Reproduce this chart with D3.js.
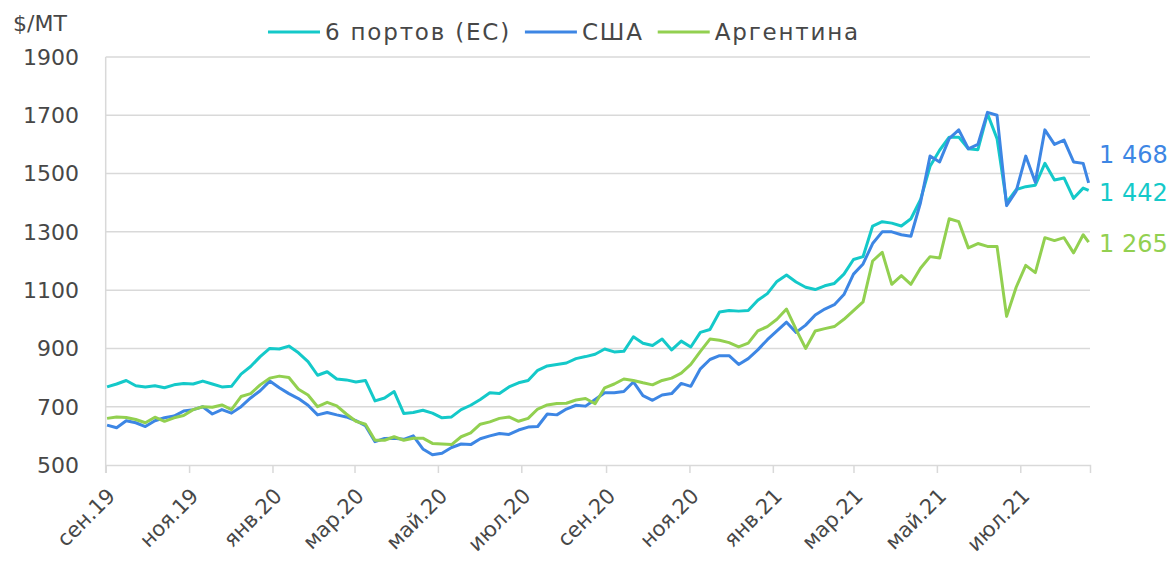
<!DOCTYPE html>
<html>
<head>
<meta charset="utf-8">
<script src="https://cdn.jsdelivr.net/npm/d3@7"></script>
<style>
  body { margin: 0; background: #fff; }
  svg { display: block; }
  text { font-family: "DejaVu Sans", sans-serif; fill: #474747; }
</style>
</head>
<body>
<div id="chart"></div>
<script>
// weekly observations, first Monday of Sep 2019, last point 20 Aug 2021
const firstDate = "2019-09-02";
const lastDate = "2021-08-20";
const axisStart = "2019-09-01";
const axisEnd = "2021-08-21";

const seriesNames = ["6 портов (ЕС)", "США", "Аргентина"];
const seriesColors = ["#14c9c9", "#3d86e4", "#92d050"];

const eu6 = [
  768, 778, 790, 772, 768, 772, 765, 775, 780, 778, 788, 778, 768, 770, 812, 838, 872, 900, 898, 908,
  885, 855, 808, 820, 795, 792, 785, 790, 720, 730, 752, 677, 680, 688, 678, 662, 665, 690, 705, 725,
  748, 745, 768, 782, 790, 825, 840, 845, 850, 865, 872, 880, 898, 888, 890, 940, 918, 910, 932, 895,
  925, 905, 955, 965, 1025, 1030, 1028, 1030, 1065, 1088, 1130, 1152, 1128, 1110, 1102, 1115, 1123, 1155, 1205, 1215,
  1320, 1335, 1330, 1320, 1345, 1410, 1525, 1580, 1625, 1625, 1585, 1582, 1705, 1620, 1400, 1445, 1455, 1460, 1535, 1478,
  1485, 1415, 1450, 1442
];
const usa = [
  637, 628, 652, 645, 632, 652, 662, 668, 685, 690, 700, 675, 690, 678, 700, 730, 755, 788, 765, 745,
  728, 705, 672, 680, 672, 665, 652, 635, 580, 591, 592, 588, 600, 555, 535, 540, 560, 572, 570, 590,
  600, 608, 605, 620, 630, 632, 675, 672, 692, 705, 702, 725, 748, 748, 752, 785, 738, 722, 740, 745,
  780, 770, 830, 862, 875, 875, 845, 865, 895, 930, 960, 990, 955, 980, 1015, 1035, 1050, 1085, 1155, 1190,
  1260, 1300, 1300, 1290, 1285, 1400, 1560, 1540, 1620, 1650, 1585, 1600, 1710, 1700, 1390, 1440, 1560, 1470, 1650, 1600,
  1615, 1540, 1535, 1468
];
const argentina = [
  660, 665, 663, 656, 645, 664, 650, 662, 670, 690, 700, 698, 706, 690, 735, 745, 775, 798, 805, 800,
  760, 740, 700, 715, 703, 675, 650, 640, 585, 585, 597, 585, 592, 592, 574, 572, 570, 597, 610, 640,
  648, 660, 665, 650, 660, 692, 706, 711, 712, 723, 728, 710, 765, 778, 795, 790, 782, 775, 790, 798,
  815, 845, 890, 932, 928, 920, 905, 918, 960, 975, 1000, 1035, 965, 900, 960, 968, 975, 1000, 1030, 1060,
  1200, 1230, 1120, 1150, 1120, 1175, 1215, 1210, 1345, 1335, 1245, 1260, 1250, 1250, 1010, 1110, 1185, 1160, 1280, 1270,
  1280, 1228, 1290, 1265
];

const yTicks = [500, 700, 900, 1100, 1300, 1500, 1700, 1900];
const xTickLabels = ["сен.19", "ноя.19", "янв.20", "мар.20", "май.20", "июл.20",
  "сен.20", "ноя.20", "янв.21", "мар.21", "май.21", "июл.21"];
const yTitle = "$/МТ";

const width = 1171, height = 568;
const margin = { top: 57, right: 81, bottom: 103, left: 105.7 };
const plotW = width - margin.left - margin.right;
const plotH = height - margin.top - margin.bottom;
const gridColor = "#d9d9d9";

const parse = d3.utcParse("%Y-%m-%d");
const dates = d3.range(eu6.length - 1).map(i => d3.utcDay.offset(parse(firstDate), 7 * i));
dates.push(parse(lastDate));

const series = [eu6, usa, argentina].map((vals, i) => ({
  name: seriesNames[i],
  color: seriesColors[i],
  values: vals.map((v, j) => ({ date: dates[j], value: v }))
}));

const svg = d3.select("#chart").append("svg")
  .attr("width", width).attr("height", height);

const x = d3.scaleUtc()
  .domain([parse(axisStart), parse(axisEnd)])
  .range([margin.left, margin.left + plotW]);
const y = d3.scaleLinear()
  .domain([500, 1900])
  .range([margin.top + plotH, margin.top]);

// gridlines
svg.append("g").selectAll("line")
  .data(yTicks.slice(1))
  .join("line")
  .attr("x1", margin.left).attr("x2", margin.left + plotW)
  .attr("y1", d => y(d)).attr("y2", d => y(d))
  .attr("stroke", gridColor).attr("stroke-width", 1.5);

// y labels
svg.append("g").selectAll("text")
  .data(yTicks)
  .join("text")
  .attr("x", 79).attr("y", d => y(d))
  .attr("dy", "0.36em")
  .attr("text-anchor", "end")
  .style("font-size", "22px")
  .text(d => d);

svg.append("text")
  .attr("x", 13).attr("y", 31)
  .style("font-size", "22px")
  .text(yTitle);

// x axis
const tickDates = d3.utcMonth.every(2).range(parse(axisStart), parse(axisEnd));
const xAxis = svg.append("g")
  .attr("transform", `translate(0,${margin.top + plotH})`)
  .call(d3.axisBottom(x).tickValues(tickDates).tickSize(8).tickFormat((d, i) => xTickLabels[i]));
xAxis.select(".domain").attr("stroke", gridColor).attr("stroke-width", 1.5);
xAxis.selectAll(".tick line").attr("stroke", gridColor).attr("stroke-width", 1.5);
xAxis.selectAll(".tick text")
  .attr("fill", "#474747")
  .style("font-size", "21px")
  .attr("text-anchor", "end")
  .attr("y", 0).attr("dy", "0.35em")
  .attr("transform", "translate(5,27) rotate(-45)");

// y axis line
svg.append("line")
  .attr("x1", margin.left).attr("x2", margin.left)
  .attr("y1", margin.top).attr("y2", margin.top + plotH + 8)
  .attr("stroke", gridColor).attr("stroke-width", 1.5);

// lines
const line = d3.line().x(d => x(d.date)).y(d => y(d.value));
svg.append("g").selectAll("path")
  .data(series)
  .join("path")
  .attr("d", d => line(d.values))
  .attr("fill", "none")
  .attr("stroke", d => d.color)
  .attr("stroke-width", 3)
  .attr("stroke-linejoin", "round");

// end labels
const fmt = d3.formatLocale({ decimal: ",", thousands: " ", grouping: [3], currency: ["", ""] }).format(",");
const labelShift = [2, -29, 1];
svg.append("g").selectAll("text")
  .data(series)
  .join("text")
  .attr("x", 1099)
  .attr("y", (d, i) => y(d.values[d.values.length - 1].value) + labelShift[i])
  .attr("dy", "0.36em")
  .style("font-size", "24px")
  .style("fill", d => d.color)
  .text(d => fmt(d.values[d.values.length - 1].value));

// legend
const legend = svg.append("g");
let lx = 0;
series.forEach((s, i) => {
  const g = legend.append("g").attr("transform", `translate(${lx},0)`);
  g.append("line").attr("x1", 0).attr("x2", 52).attr("y1", 0).attr("y2", 0)
    .attr("stroke", s.color).attr("stroke-width", 3);
  const t = g.append("text").attr("x", 57).attr("dy", "0.36em")
    .style("font-size", "23px").style("letter-spacing", "1.8px").text(s.name);
  lx += 57 + t.node().getComputedTextLength() + 14;
});
const legW = lx - 14;
legend.attr("transform", `translate(${564 - legW / 2},32)`);
</script>
</body>
</html>
